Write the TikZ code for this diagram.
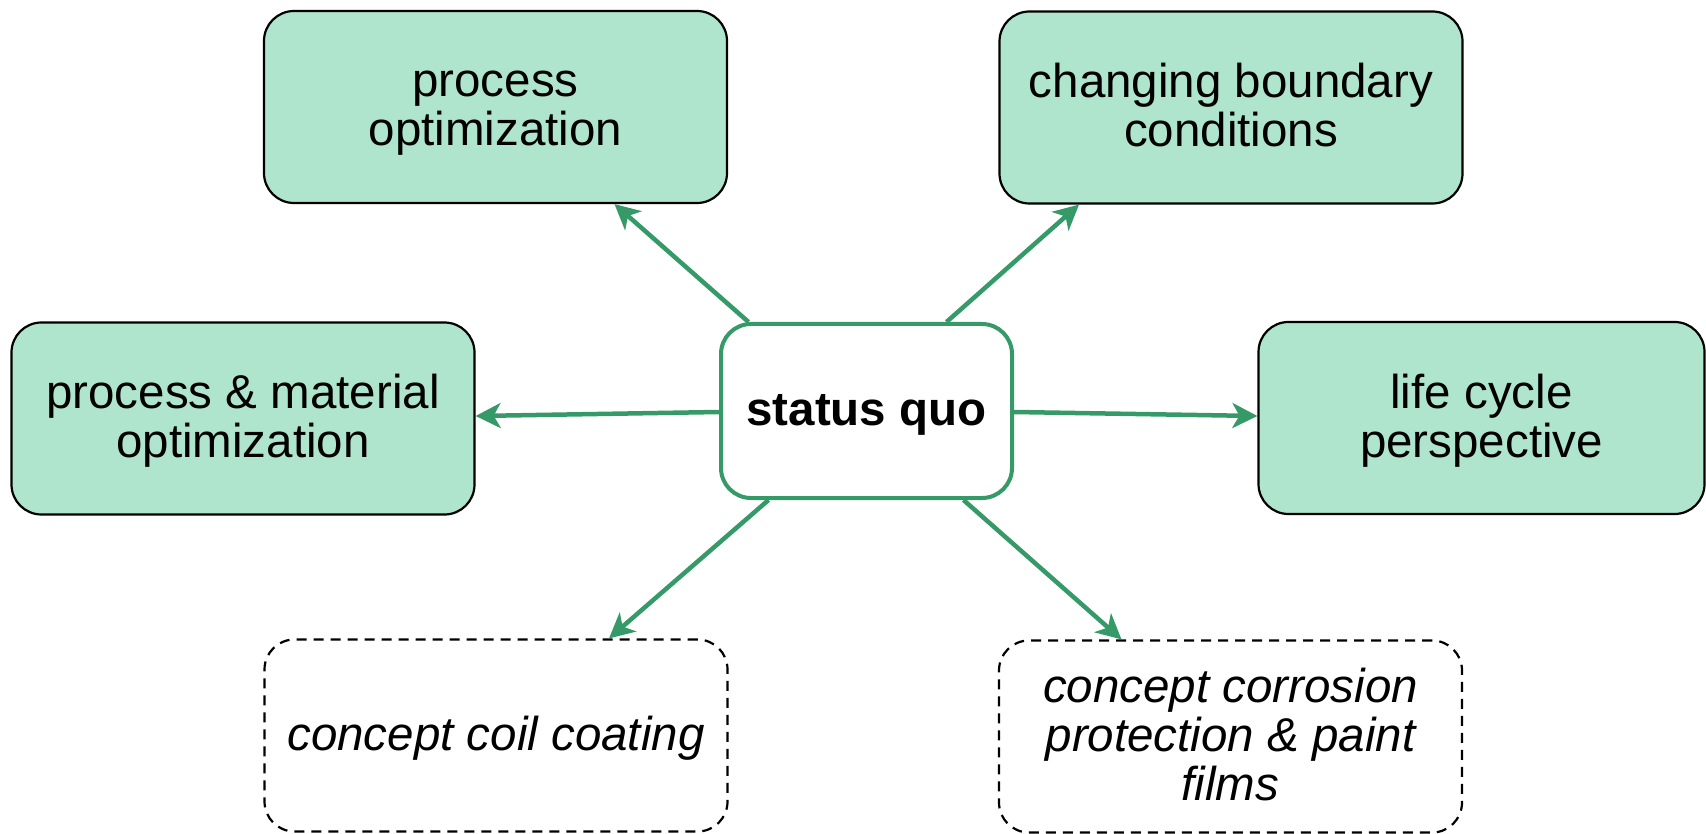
\documentclass[tikz,border=0pt]{standalone}
\usepackage{fontspec}
\setmainfont{Liberation Sans}
\usetikzlibrary{arrows.meta}
\definecolor{boxfill}{RGB}{175,229,204}
\definecolor{linkgreen}{RGB}{53,154,103}
% uniform line box so that every label sits at the same height
\newcommand{\ls}{\rule[-10pt]{0pt}{49pt}}
\tikzset{
  basebox/.style={rectangle, rounded corners=30pt, align=center, inner sep=0pt,
    font=\fontsize{47.5pt}{49pt}\selectfont},
  topicbox/.style={basebox, draw=black, line width=2.2pt, fill=boxfill,
    minimum width=463pt, minimum height=192pt},
  conceptbox/.style={basebox, draw=black, line width=2.2pt, dash pattern=on 10pt off 7pt,
    minimum width=463pt, minimum height=192pt, font=\fontsize{47.5pt}{49pt}\selectfont\itshape},
  centerbox/.style={basebox, draw=linkgreen, line width=4pt, fill=white,
    minimum width=291pt, minimum height=174pt, font=\fontsize{47.5pt}{49pt}\selectfont\bfseries},
  link/.style={draw=linkgreen, line width=4.5pt,
    -{Stealth[length=25pt,width=25pt,inset=7pt]}}
}
\begin{document}
\begin{tikzpicture}[x=1pt,y=-1pt]
  \useasboundingbox (0,0) rectangle (1706,834);

  \node[topicbox] (po) at (495.5,107) {\ls process\\optimization\ls};
  \node[topicbox] (cb) at (1231,107.5) {\ls changing boundary\\conditions\ls};
  \node[topicbox] (pm) at (243,418.5) {\ls process \& material\\optimization\ls};
  \node[topicbox, minimum width=446pt] (lc) at (1481.5,418) {\ls life cycle\\perspective\ls};
  \node[centerbox] (sq) at (866.5,411) {\ls status quo\ls};
  \node[conceptbox] (cc) at (496,735.5) {\ls concept coil coating\ls};
  \node[conceptbox] (cp) at (1230.5,736.5) {\ls concept corrosion\\protection \& paint\\films\ls};

  \path[link] ([xshift=-118pt]sq.north) -- ([xshift=119pt]po.south);
  \path[link] ([xshift=80pt]sq.north) -- ([xshift=-152pt]cb.south);
  \path[link] ([yshift=-1pt]sq.west) -- ([yshift=2.5pt]pm.east);
  \path[link] ([yshift=-1pt]sq.east) -- ([yshift=2pt]lc.west);
  \path[link] ([xshift=-98pt]sq.south) -- ([xshift=113pt]cc.north);
  \path[link] ([xshift=97pt]sq.south) -- ([xshift=-109pt]cp.north);
\end{tikzpicture}
\end{document}
